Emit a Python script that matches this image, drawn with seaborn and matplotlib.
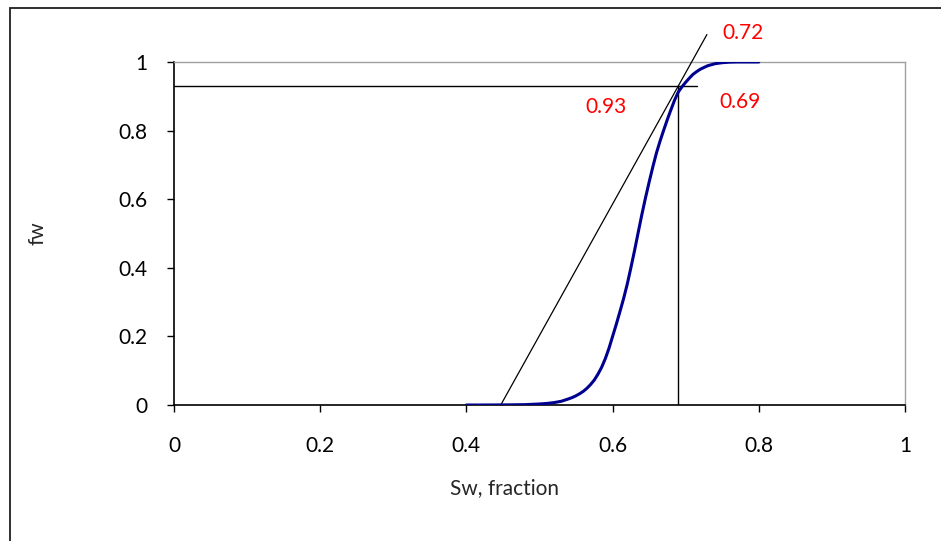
import matplotlib
matplotlib.use("Agg")
import matplotlib.pyplot as plt
from matplotlib.patches import Rectangle
import seaborn as sns
import pandas as pd

# Fractional flow curve fw(Sw)
sw = [0.40, 0.42, 0.44, 0.46, 0.48, 0.50, 0.51, 0.52, 0.53, 0.54, 0.545,
      0.55, 0.555, 0.56, 0.565, 0.57, 0.575, 0.58, 0.585, 0.59, 0.595,
      0.60, 0.605, 0.61, 0.615, 0.62, 0.625, 0.63, 0.635, 0.64, 0.645,
      0.65, 0.655, 0.66, 0.665, 0.67, 0.675, 0.68, 0.685, 0.69, 0.695,
      0.70, 0.705, 0.71, 0.715, 0.72, 0.73, 0.74, 0.75, 0.76, 0.77, 0.78, 0.80]
fw = [0.0, 0.0, 0.0002, 0.0005, 0.001, 0.003, 0.0045, 0.007, 0.011, 0.018, 0.022,
      0.027, 0.033, 0.040, 0.049, 0.060, 0.073, 0.090, 0.110, 0.135, 0.165,
      0.200, 0.235, 0.272, 0.310, 0.352, 0.400, 0.450, 0.503, 0.555, 0.604,
      0.650, 0.694, 0.735, 0.770, 0.802, 0.833, 0.862, 0.890, 0.913, 0.928,
      0.941, 0.953, 0.964, 0.972, 0.979, 0.989, 0.995, 0.998, 0.9995, 1.0, 1.0, 1.0]

# Welge tangent from the initial saturation
tangent_sw = [0.447, 0.729]
tangent_fw = [0.0, 1.08]

# Front values read from the tangent point
fw_front = 0.93
sw_front = 0.69
sw_bt = 0.72
hline_end = 0.715

xticks = [0, 0.2, 0.4, 0.6, 0.8, 1]
yticks = [0, 0.2, 0.4, 0.6, 0.8, 1]
xtick_labels = ["0", "0.2", "0.4", "0.6", "0.8", "1"]
ytick_labels = ["0", "0.2", "0.4", "0.6", "0.8", "1"]

sns.set_style("white")
plt.rcParams["font.family"] = ["Lato", "DejaVu Sans"]

fig = plt.figure(figsize=(9.41, 5.41), dpi=100)
ax = fig.add_axes([174 / 941, 1 - 405 / 541, 731 / 941, 343 / 541])

df = pd.DataFrame({"Sw": sw, "fw": fw})
sns.lineplot(data=df, x="Sw", y="fw", ax=ax, color="#000090", linewidth=2.2,
             sort=False, estimator=None, zorder=4)

ax.plot(tangent_sw, tangent_fw, color="black", linewidth=0.9, clip_on=False, zorder=3)
ax.plot([0, hline_end], [fw_front, fw_front], color="black", linewidth=1.0, zorder=3)
ax.plot([sw_front, sw_front], [0, fw_front], color="black", linewidth=1.0, zorder=3)

red = "#ff0000"
fs = 15
ax.text(0.778, 1.085, f"{sw_bt:.2f}", color=red, fontsize=fs, ha="center", va="center",
        clip_on=False)
ax.text(0.591, 0.869, f"{fw_front:.2f}", color=red, fontsize=fs, ha="center", va="center")
ax.text(0.774, 0.883, f"{sw_front:.2f}", color=red, fontsize=fs, ha="center", va="center")

ax.set_xlim(0, 1)
ax.set_ylim(0, 1)
ax.set_xticks(xticks)
ax.set_xticklabels(xtick_labels)
ax.set_yticks(yticks)
ax.set_yticklabels(ytick_labels)
ax.tick_params(axis="x", direction="out", length=5, width=1.0, color="black",
               pad=17, labelsize=fs, labelcolor="black")
ax.tick_params(axis="y", direction="out", length=5, width=1.0, color="black",
               pad=14, labelsize=fs, labelcolor="black")
ax.xaxis.set_ticks_position("bottom")
ax.yaxis.set_ticks_position("left")

ax.set_xlabel("Sw, fraction", fontsize=fs, va="center")
ax.xaxis.set_label_coords((504 - 174) / 731, (405 - 488) / 343)
ax.set_ylabel("fw", fontsize=fs, va="center")
ax.yaxis.set_label_coords((38 - 174) / 731, (405 - 233) / 343)

for side in ("top", "right"):
    ax.spines[side].set_color("#a0a0a0")
    ax.spines[side].set_linewidth(1.0)
for side in ("left", "bottom"):
    ax.spines[side].set_color("black")
    ax.spines[side].set_linewidth(1.2)
ax.grid(False)

# Chart-area frame
fig.patches.append(Rectangle((10 / 941, -0.1), 1.2, 1 - 8 / 541 + 0.1,
                             transform=fig.transFigure, fill=False,
                             edgecolor="#202020", linewidth=1.3))

fig.savefig("out.png", dpi=100)
